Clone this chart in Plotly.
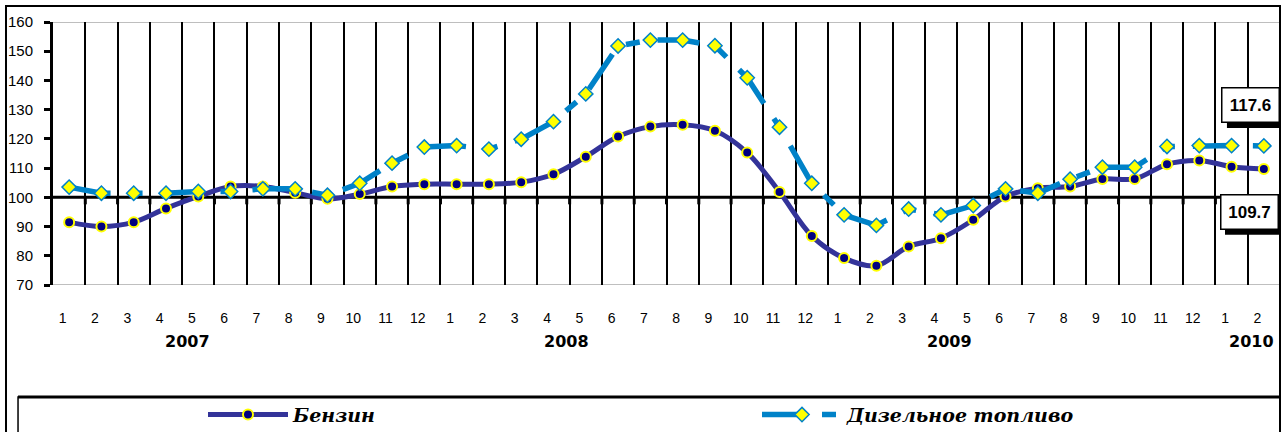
import plotly.graph_objects as go

# ---------------- data ----------------
months = ["1", "2", "3", "4", "5", "6", "7", "8", "9", "10", "11", "12",
          "1", "2", "3", "4", "5", "6", "7", "8", "9", "10", "11", "12",
          "1", "2", "3", "4", "5", "6", "7", "8", "9", "10", "11", "12",
          "1", "2"]
years = ["2007", "2008", "2009", "2010"]
year_pos = [3.68, 15.39, 27.25, 36.63]

petrol = [91.5, 90.0, 91.5, 96.2, 100.3, 103.7, 103.7, 101.6, 99.5, 101.1, 103.7, 104.5,
          104.5, 104.5, 105.2, 107.9, 113.9, 120.8, 124.2, 124.8, 122.8, 115.3, 101.8, 86.8,
          79.2, 76.6, 83.2, 86.0, 92.3, 100.3, 103.1, 103.7, 106.3, 106.3, 111.3, 112.6,
          110.5, 109.7]
diesel = [103.5, 101.4, 101.4, 101.4, 102.0, 102.0, 102.9, 102.9, 100.7, 104.8, 111.7, 117.2,
          117.7, 116.5, 119.9, 125.9, 135.4, 151.8, 153.8, 153.8, 151.9, 140.9, 124.0, 104.8,
          94.0, 90.4, 96.0, 94.0, 97.2, 102.9, 101.4, 106.2, 110.3, 110.3, 117.4, 117.7,
          117.7, 117.6]
series_names = ["Бензин", "Дизельное топливо"]

x = list(range(len(months)))

PETROL = "#333399"
DIESEL = "#0082C8"

fig = go.Figure()
fig.add_trace(go.Scatter(
    x=x, y=petrol, name=series_names[0], mode="lines+markers",
    line=dict(color=PETROL, width=5, shape="spline", smoothing=1.0),
    marker=dict(symbol="circle", size=10, color="#000080",
                line=dict(color="#FFFF00", width=2)),
    legend="legend",
))
fig.add_trace(go.Scatter(
    x=x, y=diesel, name=series_names[1], mode="lines+markers",
    line=dict(color=DIESEL, width=5.5, dash="42px,18px,14px,18px"),
    marker=dict(symbol="diamond", size=11, color="#FFFF00",
                line=dict(color=DIESEL, width=1.5)),
    legend="legend2",
))

shapes = []
# top / bottom plot borders
for yv in (160, 70):
    shapes.append(dict(type="line", xref="paper", yref="y", x0=0, x1=1, y0=yv, y1=yv,
                       line=dict(color="#7f7f7f", width=1), layer="below"))
# baseline at 100
shapes.append(dict(type="line", xref="paper", yref="y", x0=0, x1=1, y0=100, y1=100,
                   line=dict(color="black", width=3), layer="below"))
# small ticks below the 100 line at category boundaries
for k in range(len(months)):
    shapes.append(dict(type="line", xref="x", yref="y", ysizemode="pixel", yanchor=100,
                       x0=k + 0.5, x1=k + 0.5, y0=0, y1=-7,
                       line=dict(color="black", width=3), layer="below"))

# value boxes with shadow
last_labels = [(diesel[-1], 131.44, 36.60), (petrol[-1], 94.87, 36.54)]
annotations = []
for val, yc, xc in last_labels:
    shapes.append(dict(type="rect", xref="x", yref="y", xsizemode="pixel", ysizemode="pixel",
                       xanchor=xc, yanchor=yc, x0=-24, x1=34, y0=-22.5, y1=12.5,
                       fillcolor="black", line=dict(width=0), layer="above"))
    annotations.append(dict(x=xc, y=yc, xref="x", yref="y", text=f"{val:.1f}",
                            showarrow=False, width=54, height=31, borderpad=1,
                            bgcolor="white", bordercolor="black", borderwidth=1.5,
                            font=dict(family="Liberation Sans, Arial", size=17,
                                      color="black", weight="bold")))

# year labels
for yr, pos in zip(years, year_pos):
    annotations.append(dict(x=pos, y=-0.2167, xref="x", yref="paper", text=yr,
                            showarrow=False, xanchor="center", yanchor="middle",
                            font=dict(family="DejaVu Sans, Arial", size=16,
                                      color="black", weight="bold")))

# outer chart border
shapes.append(dict(type="rect", xref="paper", yref="paper", x0=-0.0383, x1=1.0,
                   y0=-0.7, y1=1.0608, line=dict(color="black", width=2)))
# legend box
shapes.append(dict(type="rect", xref="paper", yref="paper", x0=-0.0285, x1=1.0,
                   y0=-0.7, y1=-0.4259, line=dict(color="black", width=1.5)))
shapes.append(dict(type="line", xref="paper", yref="paper", x0=-0.0285, x1=1.0,
                   y0=-0.4259, y1=-0.4259, line=dict(color="black", width=3)))

legend_font = dict(family="DejaVu Serif, Liberation Serif", size=19, color="black",
                   weight="bold", style="italic")

fig.update_layout(
    width=1284, height=432,
    margin=dict(l=53, r=4, t=22, b=147, autoexpand=False),
    paper_bgcolor="white", plot_bgcolor="white",
    showlegend=True,
    legend=dict(x=(203 - 53) / 1227, y=-0.493, xanchor="left", yanchor="middle",
                orientation="h", itemwidth=80, font=legend_font,
                bgcolor="rgba(0,0,0,0)"),
    legend2=dict(x=(757 - 53) / 1227, y=-0.493, xanchor="left", yanchor="middle",
                 orientation="h", itemwidth=80, font=legend_font,
                 bgcolor="rgba(0,0,0,0)"),
    xaxis=dict(range=[-0.5, len(months) - 0.5], tickmode="array",
               tickvals=[i - 0.2 for i in x], ticktext=months,
               showgrid=False, zeroline=False, showline=False,
               ticks="outside", ticklen=20, tickcolor="rgba(0,0,0,0)",
               tickfont=dict(family="Liberation Sans, Arial", size=14, color="black"),
               minor=dict(tickmode="array", tickvals=[k + 0.5 for k in range(-1, len(months))],
                          showgrid=True, gridcolor="black", gridwidth=1.6, ticks="")),
    yaxis=dict(range=[70, 160], dtick=10, tick0=70, showgrid=False, zeroline=False,
               showline=True, linecolor="black", linewidth=3,
               ticks="outside", ticklen=6, tickwidth=3, tickcolor="black",
               ticklabelstandoff=8,
               tickfont=dict(family="Liberation Sans, Arial", size=15, color="black")),
    shapes=shapes,
    annotations=annotations,
)

fig.write_html(
    "out.html",
    config={"displayModeBar": False},
    post_script="document.body.style.margin='0';document.body.style.overflow='hidden';",
)
